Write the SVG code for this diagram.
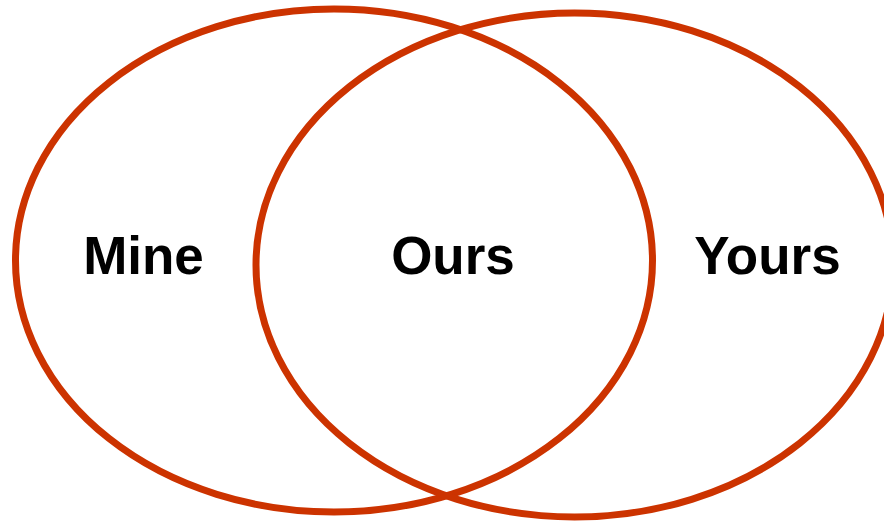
<svg xmlns="http://www.w3.org/2000/svg" width="884" height="523" viewBox="0 0 884 523">
<style>
.set{fill:none;stroke:#CC3300;stroke-width:7}
.lbl{font-family:"Liberation Sans",Arial,sans-serif;font-weight:bold;font-size:53px;fill:#000;text-anchor:middle}
</style>
<rect width="884" height="523" fill="#fff"/>
<g id="mine"><ellipse class="set" cx="334" cy="260.5" rx="318.5" ry="251.5"/><text class="lbl" x="143.5" y="273.5">Mine</text></g>
<g id="yours"><ellipse class="set" cx="574.5" cy="265" rx="318.5" ry="252"/><text class="lbl" x="767.5" y="273.5">Yours</text></g>
<g id="ours"><text class="lbl" x="453" y="273.5">Ours</text></g>
</svg>
